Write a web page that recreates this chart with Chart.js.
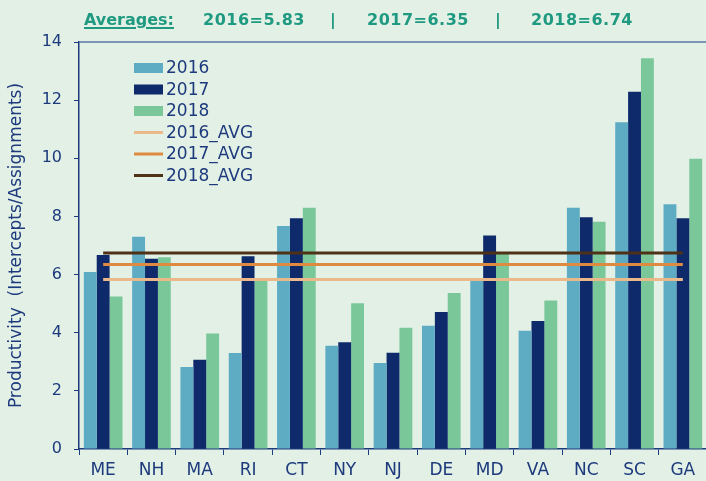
<!doctype html>
<html lang="en">
<head>
    <meta charset="UTF-8">
    <title>Productivity by State</title>
    <script src="https://cdn.jsdelivr.net/npm/chart.js"></script>
    <style>
        html, body {
            margin: 0;
            padding: 0;
            overflow: hidden;
            background-color: #e2f0e6;
        }
        #wrap {
            position: relative;
            width: 712px;
            height: 481px;
        }
        #averages {
            position: absolute;
            top: 10px;
            left: 0;
            font-family: "DejaVu Sans", sans-serif;
            font-weight: bold;
            font-size: 16px;
            line-height: 20px;
            color: #1f9a80;
        }
        #averages span {
            position: absolute;
            white-space: nowrap;
        }
        #averages .num {
            letter-spacing: 0.5px;
        }
        #averages .head {
            text-decoration: underline;
            text-decoration-thickness: 2px;
            text-underline-offset: 2px;
        }
        canvas {
            position: absolute;
            top: 0;
            left: 0;
        }
    </style>
</head>
<body>
<div id="wrap">
    <canvas id="myChart" width="712" height="481"></canvas>
    <div id="averages">
        <span class="head" style="left:84px">Averages:</span>
        <span class="num" id="avg0" style="left:203px"></span>
        <span style="left:330px">|</span>
        <span class="num" id="avg1" style="left:367px"></span>
        <span style="left:495px">|</span>
        <span class="num" id="avg2" style="left:531px"></span>
    </div>
</div>

<script>
    const categories = ['ME', 'NH', 'MA', 'RI', 'CT', 'NY', 'NJ', 'DE', 'MD', 'VA', 'NC', 'SC', 'GA'];
    const years = ['2016', '2017', '2018'];

    const values2016 = [6.09, 7.30, 2.82, 3.30, 7.67, 3.55, 2.96, 4.24, 5.78, 4.07, 8.30, 11.24, 8.42];
    const values2017 = [6.67, 6.54, 3.07, 6.63, 7.94, 3.67, 3.31, 4.71, 7.34, 4.40, 7.97, 12.29, 7.94];
    const values2018 = [5.25, 6.60, 3.97, 5.79, 8.30, 5.01, 4.17, 5.37, 6.78, 5.11, 7.82, 13.44, 9.98];

    const averageLabels = ['2016_AVG', '2017_AVG', '2018_AVG'];
    const averages = [5.83, 6.35, 6.74];

    const yTicks = [0, 2, 4, 6, 8, 10, 12, 14];

    const barColors = ['#5eacc4', '#0e2a6a', '#7ac89a'];
    const avgColors = ['#ebb88a', '#de8a40', '#4e3117'];
    const navy = '#1d3a7c';

    // header line
    averages.forEach((v, i) => {
        document.getElementById('avg' + i).textContent = years[i] + '=' + v.toFixed(2);
    });

    const barSets = [values2016, values2017, values2018].map((vals, i) => ({
        type: 'bar',
        label: years[i],
        data: vals,
        backgroundColor: barColors[i],
        categoryPercentage: 0.8,
        barPercentage: 1.0,
        order: 10
    }));

    // flat average lines across all states
    const avgSets = averages.map((avg, i) => ({
        type: 'line',
        label: averageLabels[i],
        data: categories.map(() => avg),
        borderColor: avgColors[i],
        borderWidth: 3,
        pointRadius: 0,
        fill: false,
        order: 3 - i
    }));

    // legend drawn inside the plot, top left
    const insideLegend = {
        id: 'insideLegend',
        afterDraw(chart) {
            const ctx = chart.ctx;
            const x = 134, y0 = 68, step = 21.5;
            const items = chart.data.datasets;
            ctx.save();
            ctx.font = '17px "DejaVu Sans"';
            ctx.textBaseline = 'middle';
            items.forEach((ds, i) => {
                const y = y0 + i * step;
                if (ds.type === 'bar') {
                    ctx.fillStyle = ds.backgroundColor;
                    ctx.fillRect(x, y - 5, 29, 10);
                } else {
                    ctx.strokeStyle = ds.borderColor;
                    ctx.lineWidth = 3;
                    ctx.beginPath();
                    ctx.moveTo(x, y);
                    ctx.lineTo(x + 29, y);
                    ctx.stroke();
                }
                ctx.fillStyle = navy;
                ctx.fillText(ds.label, x + 32, y + 1);
            });
            // top border of the plot
            const a = chart.chartArea;
            ctx.strokeStyle = '#5a78a8';
            ctx.lineWidth = 1.5;
            ctx.beginPath();
            ctx.moveTo(a.left, a.top);
            ctx.lineTo(a.right, a.top);
            ctx.stroke();
            ctx.restore();
        }
    };

    new Chart(document.getElementById('myChart'), {
        type: 'bar',
        data: {
            labels: categories,
            datasets: [...barSets, ...avgSets]
        },
        options: {
            responsive: false,
            animation: false,
            layout: {
                padding: { top: 42, right: 5, left: 0, bottom: 0 }
            },
            plugins: {
                legend: { display: false },
                tooltip: { enabled: false }
            },
            scales: {
                x: {
                    offset: true,
                    grid: {
                        offset: true,
                        drawOnChartArea: false,
                        tickLength: 6,
                        color: navy
                    },
                    border: { color: navy, width: 1.5 },
                    ticks: {
                        color: navy,
                        padding: 5,
                        font: { family: 'DejaVu Sans', size: 17 }
                    },
                    afterFit(scale) { scale.height = 32; }
                },
                y: {
                    min: 0,
                    max: 14,
                    afterBuildTicks(scale) {
                        scale.ticks = yTicks.map(v => ({ value: v }));
                    },
                    grid: {
                        drawOnChartArea: false,
                        tickLength: 5,
                        color: navy
                    },
                    border: { color: navy, width: 1.5 },
                    ticks: {
                        color: navy,
                        padding: 12,
                        font: { family: 'DejaVu Sans', size: 16 }
                    },
                    title: {
                        display: true,
                        text: 'Productivity  (Intercepts/Assignments)',
                        color: navy,
                        padding: { top: 6, bottom: 0 },
                        font: { family: 'DejaVu Sans', size: 17 }
                    },
                    afterFit(scale) { scale.width = 79; }
                }
            }
        },
        plugins: [insideLegend]
    });
</script>
</body>
</html>
